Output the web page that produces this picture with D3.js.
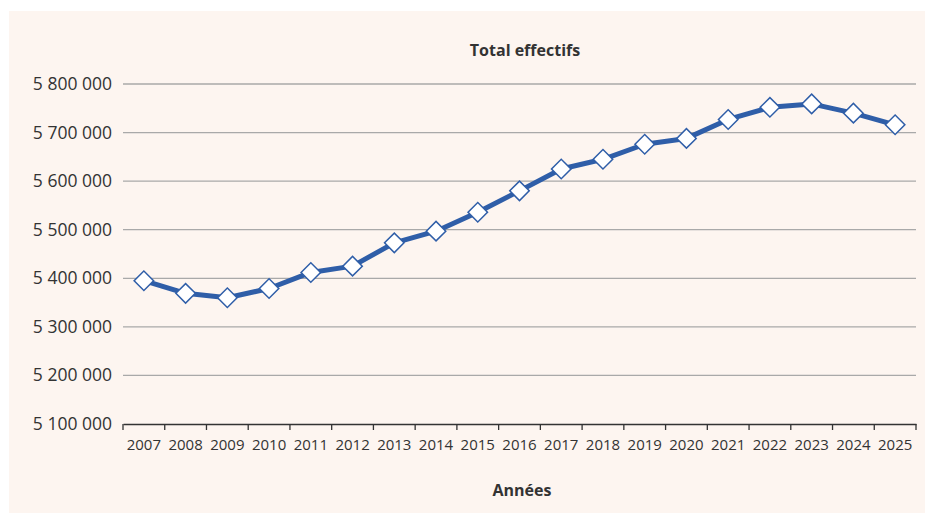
<!DOCTYPE html>
<html>
<head>
<meta charset="utf-8">
<script src="https://cdn.jsdelivr.net/npm/d3@7"></script>
<style>
  body { margin: 0; background: #fff; }
  text { font-family: "Open Sans", sans-serif; fill: #333; }
</style>
</head>
<body>
<div id="chart"></div>
<script>
// data
var years = ["2007", "2008", "2009", "2010", "2011", "2012", "2013", "2014", "2015", "2016",
  "2017", "2018", "2019", "2020", "2021", "2022", "2023", "2024", "2025"];
var effectifs = [5395000, 5369000, 5360000, 5379000, 5412000, 5425000, 5473000, 5497000, 5536000, 5580000,
  5625000, 5645000, 5676000, 5688000, 5727000, 5752000, 5759000, 5740000, 5716000];
var yTicks = [5100000, 5200000, 5300000, 5400000, 5500000, 5600000, 5700000, 5800000];

var W = 925, H = 515;
var plotLeft = 123, plotRight = 916, plotTop = 84, plotBottom = 424;

var svg = d3.select("#chart").append("svg")
  .attr("width", W)
  .attr("height", H);

svg.append("rect")
  .attr("x", 9).attr("y", 11)
  .attr("width", W - 9).attr("height", H - 13)
  .attr("fill", "#fdf5f0");

var x = d3.scaleBand().domain(years).range([plotLeft, plotRight]);
var y = d3.scaleLinear().domain([5100000, 5800000]).range([plotBottom, plotTop]);

var fmt = function (v) {
  return d3.format(",")(v).replace(/,/g, " ");
};

// grid
svg.append("g")
  .selectAll("line")
  .data(yTicks.slice(1))
  .enter().append("line")
  .attr("x1", plotLeft).attr("x2", plotRight)
  .attr("y1", function (d) { return y(d); })
  .attr("y2", function (d) { return y(d); })
  .attr("stroke", "#a9a9a9")
  .attr("stroke-width", 1.3);

// y labels
svg.append("g")
  .selectAll("text")
  .data(yTicks)
  .enter().append("text")
  .attr("x", 112)
  .attr("y", function (d) { return y(d) + 6; })
  .attr("text-anchor", "end")
  .attr("font-size", 17.5)
  .text(fmt);

// x axis
var xAxis = d3.axisBottom(x).tickSize(0);
var gx = svg.append("g")
  .attr("transform", "translate(0," + plotBottom + ")")
  .call(xAxis);
gx.select(".domain").attr("stroke", "#333").attr("stroke-width", 1.3);
gx.selectAll("text")
  .attr("dy", null)
  .attr("y", 26)
  .attr("font-size", 15)
  .attr("font-family", "Open Sans, sans-serif")
  .attr("fill", "#333");

// tick marks between categories
var bounds = years.map(function (d) { return x(d); }).concat([x.range()[1]]);
gx.selectAll("line.sep")
  .data(bounds)
  .enter().append("line")
  .attr("class", "sep")
  .attr("x1", function (d) { return d; })
  .attr("x2", function (d) { return d; })
  .attr("y1", 0).attr("y2", 6)
  .attr("stroke", "#333")
  .attr("stroke-width", 1.3);

// line
var line = d3.line()
  .x(function (d, i) { return x(years[i]) + x.bandwidth() / 2; })
  .y(function (d) { return y(d); });

svg.append("path")
  .datum(effectifs)
  .attr("d", line)
  .attr("fill", "none")
  .attr("stroke", "#2f5ea8")
  .attr("stroke-width", 5)
  .attr("stroke-linejoin", "round");

// diamond markers
var sym = d3.symbol().type(d3.symbolSquare).size(190);
svg.append("g")
  .selectAll("path")
  .data(effectifs)
  .enter().append("path")
  .attr("d", sym)
  .attr("transform", function (d, i) {
    return "translate(" + (x(years[i]) + x.bandwidth() / 2) + "," + y(d) + ") rotate(45)";
  })
  .attr("fill", "#fff")
  .attr("stroke", "#2f5ea8")
  .attr("stroke-width", 1.5);

// titles
svg.append("text")
  .attr("x", 525).attr("y", 56)
  .attr("text-anchor", "middle")
  .attr("font-size", 16)
  .attr("font-weight", "bold")
  .text("Total effectifs");

svg.append("text")
  .attr("x", 522).attr("y", 496)
  .attr("text-anchor", "middle")
  .attr("font-size", 16)
  .attr("font-weight", "bold")
  .text("Années");
</script>
</body>
</html>
